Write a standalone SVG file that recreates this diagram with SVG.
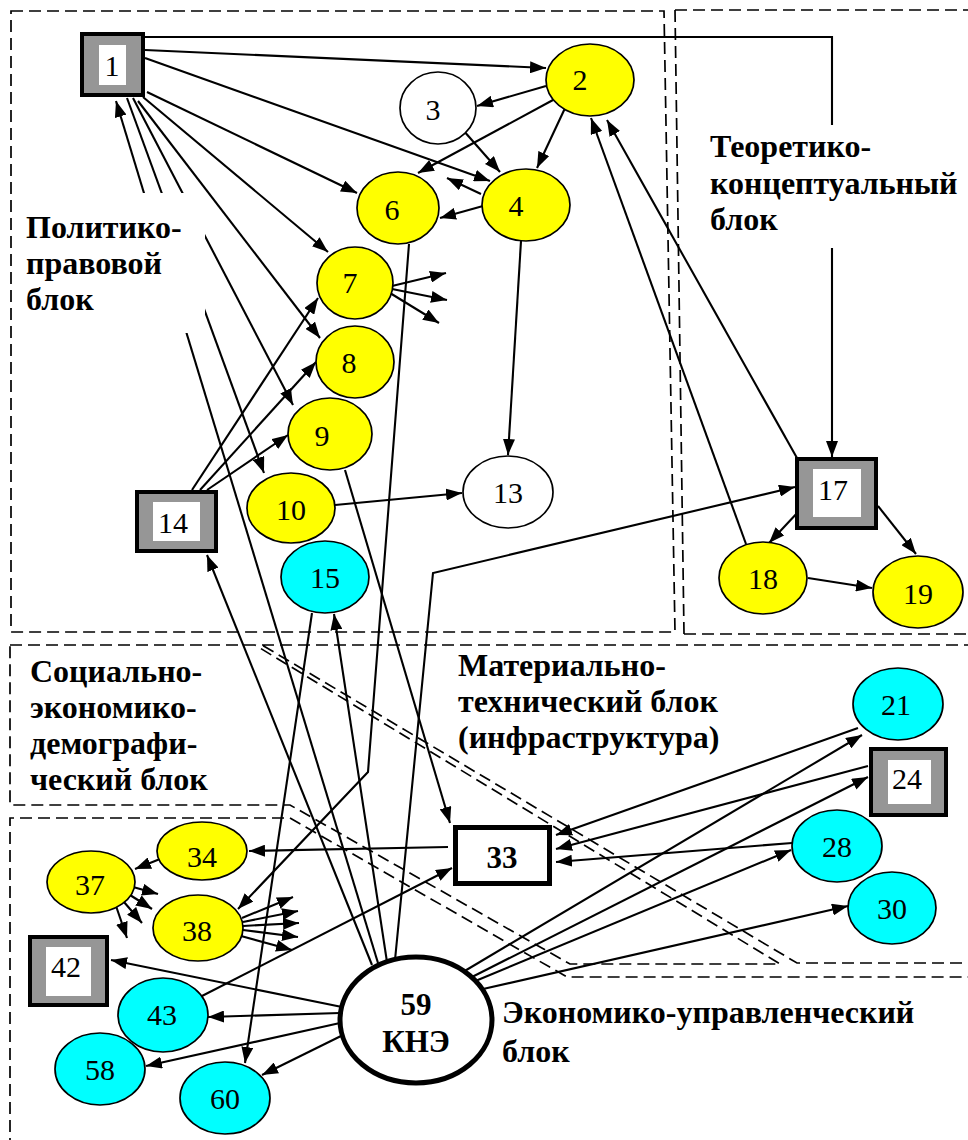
<svg xmlns="http://www.w3.org/2000/svg" width="968" height="1140" viewBox="0 0 968 1140">
<defs>
<marker id="ah" markerWidth="16" markerHeight="12" refX="16" refY="6" orient="auto" markerUnits="userSpaceOnUse">
<path d="M0,0 L16,6 L0,12 z" fill="#000"/>
</marker>
<style>
.blk{fill:none;stroke:#000;stroke-width:1.7;stroke-dasharray:12 6}
.c{fill:none;stroke:#000;stroke-width:2.1;marker-end:url(#ah)}
.y{fill:#ffff00;stroke:#000;stroke-width:1.7}
.b{fill:#00ffff;stroke:#000;stroke-width:1.7}
.w{fill:#fff;stroke:#000;stroke-width:1.7}
.g{fill:#969696;stroke:#000;stroke-width:4}
.in{fill:#fff}
.n{font-family:"Liberation Serif",serif;font-size:30px;text-anchor:middle;fill:#000}
.nb{font-family:"Liberation Serif",serif;font-size:31px;font-weight:bold;text-anchor:middle;fill:#000}
.lb{font-family:"Liberation Serif",serif;font-size:32px;font-weight:bold;fill:#000}
</style>
</defs>
<rect width="968" height="1140" fill="#fff"/>
<g id="blocks">
<path class="blk" d="M11,11 H664 L675,632 H11 Z"/>
<path class="blk" d="M675,10 H980 M684,634 H980 M675,10 L684,634"/>
<path class="blk" d="M10,645 H255 L780,964 H570 L290,805 H10 Z"/>
<path class="blk" d="M262,645 H980 M980,963 H797 L262,645"/>
<path class="blk" d="M10,1150 V818 H290 L567,977 H980"/>
</g>
<g id="connectors">
<path class="c" d="M145,50 L546,68"/>
<path class="c" d="M145,37 H832 V457"/>
<path class="c" d="M145,58 L490,181"/>
<path class="c" d="M147,92 L357,193"/>
<path class="c" d="M143,97 L328,252"/>
<path class="c" d="M138,101 L320,338"/>
<path class="c" d="M133,98 L293,405"/>
<path class="c" d="M127,98 L264,473"/>
<path class="c" d="M378,963 L116,101"/>
<path class="c" d="M546,86 L477,106"/>
<path class="c" d="M553,100 L418,173"/>
<path class="c" d="M566,106 L537,168"/>
<path class="c" d="M463,130 L500,172"/>
<path class="c" d="M483,206 L440,218"/>
<path class="c" d="M481,194 L447,178"/>
<path class="c" d="M521,241 L508,455"/>
<path class="c" d="M797,458 L607,120"/>
<path class="c" d="M746,544 L591,118"/>
<path class="c" d="M392,286 L446,273"/>
<path class="c" d="M392,289 L447,300"/>
<path class="c" d="M390,293 L439,323"/>
<path class="c" d="M192,490 L318,298"/>
<path class="c" d="M200,490 L316,362"/>
<path class="c" d="M207,490 L288,435"/>
<path class="c" d="M335,505 L462,493"/>
<path class="c" d="M800,510 L769,543"/>
<path class="c" d="M878,506 L916,554"/>
<path class="c" d="M808,578 L872,588"/>
<path class="c" d="M345,470 L450,823"/>
<path class="c" d="M409,244 L368,772 L238,909"/>
<path class="c" d="M395,960 L433,573 L795,487"/>
<path class="c" d="M372,965 L207,555"/>
<path class="c" d="M387,962 L334,614"/>
<path class="c" d="M312,613 L245,1063"/>
<path class="c" d="M448,847 L249,851"/>
<path class="c" d="M160,859 L135,869"/>
<path class="c" d="M133,887 L158,894"/>
<path class="c" d="M130,895 L152,909"/>
<path class="c" d="M124,902 L142,923"/>
<path class="c" d="M116,906 L127,938"/>
<path class="c" d="M242,918 L293,897"/>
<path class="c" d="M243,922 L298,911"/>
<path class="c" d="M243,926 L299,923"/>
<path class="c" d="M243,930 L298,937"/>
<path class="c" d="M241,936 L292,950"/>
<path class="c" d="M200,997 L452,868"/>
<path class="c" d="M342,1007 L111,960"/>
<path class="c" d="M340,1013 L208,1017"/>
<path class="c" d="M340,1023 L146,1066"/>
<path class="c" d="M343,1035 L262,1075"/>
<path class="c" d="M463,972 L862,735"/>
<path class="c" d="M470,978 L868,777"/>
<path class="c" d="M473,982 L791,850"/>
<path class="c" d="M483,989 L848,906"/>
<path class="c" d="M858,728 L556,835"/>
<path class="c" d="M868,766 L556,849"/>
<path class="c" d="M792,843 L556,862"/>
</g>
<g id="labels">
<rect x="18" y="193" width="187" height="140" fill="#fff"/>
<text class="lb" x="26" y="238">Политико-</text>
<text class="lb" x="26" y="274">правовой</text>
<text class="lb" x="26" y="310">блок</text>
<rect x="700" y="125" width="262" height="123" fill="#fff"/>
<text class="lb" x="710" y="157">Теоретико-</text>
<text class="lb" x="710" y="194">концептуальный</text>
<text class="lb" x="710" y="230">блок</text>
<text class="lb" x="30" y="682">Социально-</text>
<text class="lb" x="30" y="718">экономико-</text>
<text class="lb" x="30" y="754">демографи-</text>
<text class="lb" x="30" y="790">ческий блок</text>
<text class="lb" x="458" y="676">Материально-</text>
<text class="lb" x="458" y="712">технический блок</text>
<text class="lb" x="458" y="748">(инфраструктура)</text>
<text class="lb" x="502" y="1023">Экономико-управленческий</text>
<text class="lb" x="502" y="1062">блок</text>
</g>
<g id="n1"><rect class="g" x="82" y="34" width="61" height="61"/><rect class="in" x="99" y="45" width="27" height="40"/><text class="n" x="112" y="76">1</text></g>
<g id="n2"><ellipse class="y" cx="590" cy="80" rx="44" ry="36"/><text class="n" x="580" y="90">2</text></g>
<g id="n3"><ellipse class="w" cx="438" cy="108" rx="38" ry="36"/><text class="n" x="433" y="120">3</text></g>
<g id="n4"><ellipse class="y" cx="526" cy="205" rx="44" ry="36"/><text class="n" x="516" y="216">4</text></g>
<g id="n6"><ellipse class="y" cx="398" cy="208" rx="41" ry="36"/><text class="n" x="392" y="220">6</text></g>
<g id="n7"><ellipse class="y" cx="355" cy="283" rx="38" ry="36"/><text class="n" x="350" y="293">7</text></g>
<g id="n8"><ellipse class="y" cx="355" cy="362" rx="39" ry="36"/><text class="n" x="349" y="373">8</text></g>
<g id="n9"><ellipse class="y" cx="330" cy="434" rx="42" ry="36"/><text class="n" x="322" y="446">9</text></g>
<g id="n10"><ellipse class="y" cx="291" cy="508" rx="44" ry="35"/><text class="n" x="291" y="520">10</text></g>
<g id="n13"><ellipse class="w" cx="508" cy="492" rx="45" ry="36"/><text class="n" x="508" y="503">13</text></g>
<g id="n14"><rect class="g" x="137" y="492" width="79" height="59"/><rect class="in" x="153" y="502" width="47" height="39"/><text class="n" x="173" y="533">14</text></g>
<g id="n15"><ellipse class="b" cx="325" cy="577" rx="44" ry="36"/><text class="n" x="325" y="588">15</text></g>
<g id="n17"><rect class="g" x="797" y="459" width="79" height="69"/><rect class="in" x="813" y="469" width="48" height="48"/><text class="n" x="833" y="500">17</text></g>
<g id="n18"><ellipse class="y" cx="763" cy="578" rx="44" ry="36"/><text class="n" x="763" y="589">18</text></g>
<g id="n19"><ellipse class="y" cx="918" cy="592" rx="45" ry="36"/><text class="n" x="918" y="604">19</text></g>
<g id="n21"><ellipse class="b" cx="898" cy="704" rx="45" ry="36"/><text class="n" x="896" y="715">21</text></g>
<g id="n24"><rect class="g" x="871" y="749" width="75" height="66"/><rect class="in" x="888" y="760" width="43" height="44"/><text class="n" x="907" y="789">24</text></g>
<g id="n28"><ellipse class="b" cx="837" cy="846" rx="45" ry="36"/><text class="n" x="837" y="857">28</text></g>
<g id="n30"><ellipse class="b" cx="892" cy="908" rx="44" ry="36"/><text class="n" x="892" y="919">30</text></g>
<g id="n33"><rect x="455.5" y="827.5" width="94" height="56" fill="#fff" stroke="#000" stroke-width="5"/><text class="nb" x="502" y="868">33</text></g>
<g id="n34"><ellipse class="y" cx="202" cy="851" rx="45" ry="29"/><text class="n" x="202" y="867">34</text></g>
<g id="n37"><ellipse class="y" cx="91" cy="882" rx="44" ry="31"/><text class="n" x="90" y="895">37</text></g>
<g id="n38"><ellipse class="y" cx="198" cy="928" rx="45" ry="33"/><text class="n" x="197" y="941">38</text></g>
<g id="n42"><rect class="g" x="30" y="937" width="77" height="68"/><rect class="in" x="46" y="947" width="45" height="49"/><text class="n" x="66" y="977">42</text></g>
<g id="n43"><ellipse class="b" cx="163" cy="1015" rx="45" ry="37"/><text class="n" x="162" y="1025">43</text></g>
<g id="n58"><ellipse class="b" cx="100" cy="1069" rx="45" ry="36"/><text class="n" x="100" y="1080">58</text></g>
<g id="n59"><ellipse cx="416" cy="1020" rx="76" ry="63" fill="#fff" stroke="#000" stroke-width="5"/><text class="nb" x="416" y="1015">59</text><text class="nb" x="416" y="1052">КНЭ</text></g>
<g id="n60"><ellipse class="b" cx="225" cy="1098" rx="45" ry="36"/><text class="n" x="225" y="1109">60</text></g>
</svg>
